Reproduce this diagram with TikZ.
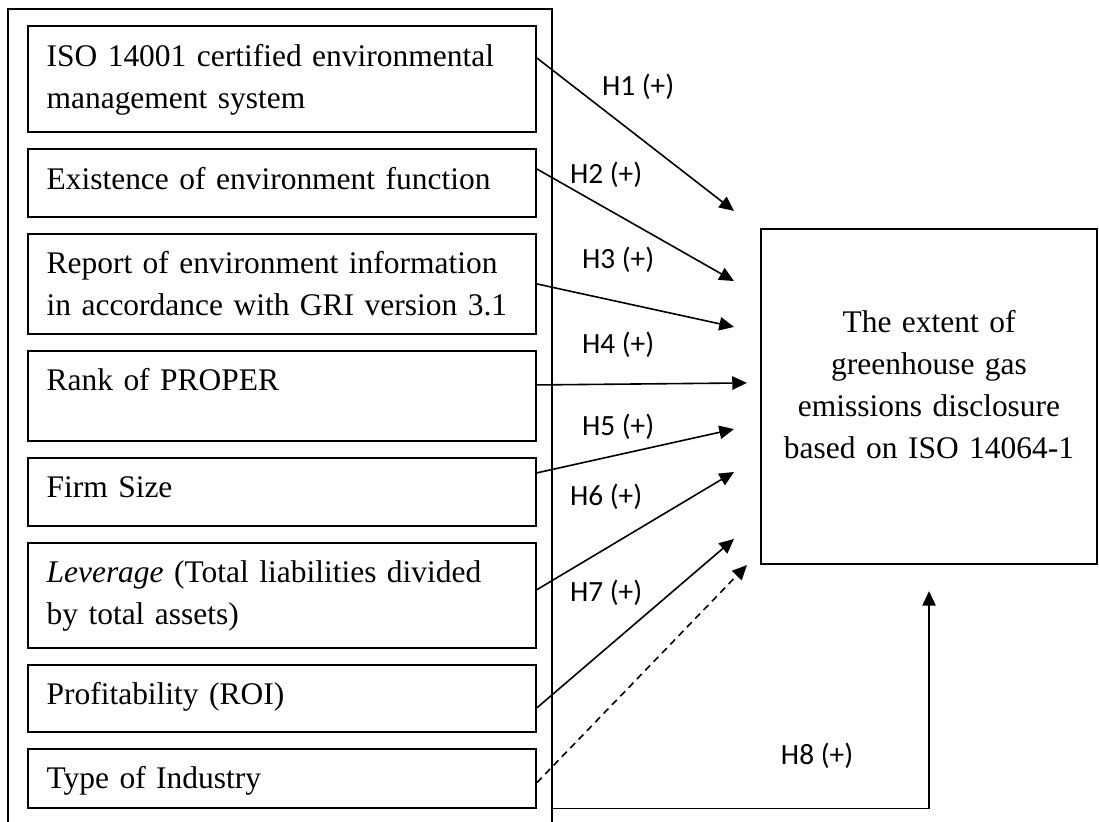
\documentclass[tikz,border=0pt]{standalone}
\usepackage{fontspec}
\setmainfont{Liberation Serif}
\newfontfamily\hypfont{Carlito}
\usetikzlibrary{arrows.meta,positioning}
\tikzset{
  factor/.style={rectangle,draw,line width=0.75pt,text width=176.5pt,inner xsep=7pt,inner ysep=0pt,text height=15pt,align=left,font=\fontsize{11.8}{15.75}\selectfont},
  outcome/.style={rectangle,draw,line width=0.8pt,text width=126pt,inner sep=0pt,text height=38.6pt,text depth=87pt,align=center,font=\fontsize{11.8}{15.75}\selectfont},
  hyp/.style={font=\hypfont\fontsize{11}{13}\selectfont,inner sep=0pt},
  frame/.style={line width=0.6pt},
  arrow/.style={-{Triangle[length=5.5pt,width=5pt]},line width=0.6pt},
  dasharrow/.style={arrow,dash pattern=on 2.6pt off 1.9pt}
}
\begin{document}
\begin{tikzpicture}[node distance=5.6pt]
    \useasboundingbox (0,0) rectangle (412.125pt,-308.25pt);
    % frame round the factors, open at the bottom
    \coordinate (rim) at (207pt,-3.4pt);
    \draw[frame] (3pt,-308.25pt) |- (rim) -- ++(0,-305pt);
    \node[factor,text depth=24.75pt,anchor=north west] (iso) at (10.1pt,-9.4pt) {ISO 14001 certified environmental\\management system};
    \node[factor,text depth=10.5pt,below=of iso] (func) {Existence of environment function};
    \node[factor,text depth=22.5pt,below=of func] (gri) {Report of environment information\\in accordance with GRI version 3.1};
    \node[factor,text depth=18.75pt,below=of gri] (proper) {Rank of PROPER};
    \node[factor,text depth=10.5pt,below=of proper] (size) {Firm Size};
    \node[factor,text depth=24.4pt,below=of size] (lev) {\textit{Leverage} (Total liabilities divided\\by total assets)};
    \node[factor,text depth=10.1pt,below=of lev] (roi) {Profitability (ROI)};
    \node[factor,text depth=7.1pt,below=of roi] (ind) {Type of Industry};
    \node[outcome] (ghg) at (348.4pt,-148.7pt) {The extent of\\greenhouse gas\\emissions disclosure\\based on ISO 14064-1};
    % hypothesis labels
    \node[hyp] (h1) at (239.3pt,-32.6pt) {H1 (+)};
    \node[hyp] (h2) at (227.3pt,-65.6pt) {H2 (+)};
    \node[hyp] (h3) at (231.8pt,-97.5pt) {H3 (+)};
    \node[hyp] (h4) at (231.8pt,-129.4pt) {H4 (+)};
    \node[hyp] (h5) at (231.8pt,-160.1pt) {H5 (+)};
    \node[hyp] (h6) at (227.3pt,-186.4pt) {H6 (+)};
    \node[hyp] (h7) at (227.3pt,-222.4pt) {H7 (+)};
    \node[hyp] (h8) at (306.4pt,-283.5pt) {H8 (+)};
    \draw[arrow] ([yshift=7.9pt]iso.east) -- ([shift={(-9.75pt,6.4pt)}]ghg.north west);
    \draw[arrow] ([yshift=5.25pt]func.east) -- ([shift={(-9.75pt,-19.9pt)}]ghg.north west);
    \draw[arrow] (gri.east) -- ([shift={(-9.75pt,-37.1pt)}]ghg.north west);
    \draw[arrow] ([yshift=4.1pt]proper.east) -- ([shift={(-4.9pt,-58.1pt)}]ghg.north west);
    \draw[arrow] ([yshift=7.1pt]size.east) -- ([shift={(-9.75pt,-75.4pt)}]ghg.north west);
    \draw[arrow] ([yshift=2.1pt]lev.east) -- ([shift={(-9.75pt,-91.5pt)}]ghg.north west);
    \draw[arrow] ([yshift=-3.6pt]roi.east) -- ([shift={(-9.75pt,-116.6pt)}]ghg.north west);
    \draw[dasharrow] ([yshift=-1.7pt]ind.east) -- ([xshift=-4.9pt]ghg.south west);
    \draw[arrow] (ind.south -| rim) -| ([yshift=-9.75pt]ghg.south);
\end{tikzpicture}
\end{document}
